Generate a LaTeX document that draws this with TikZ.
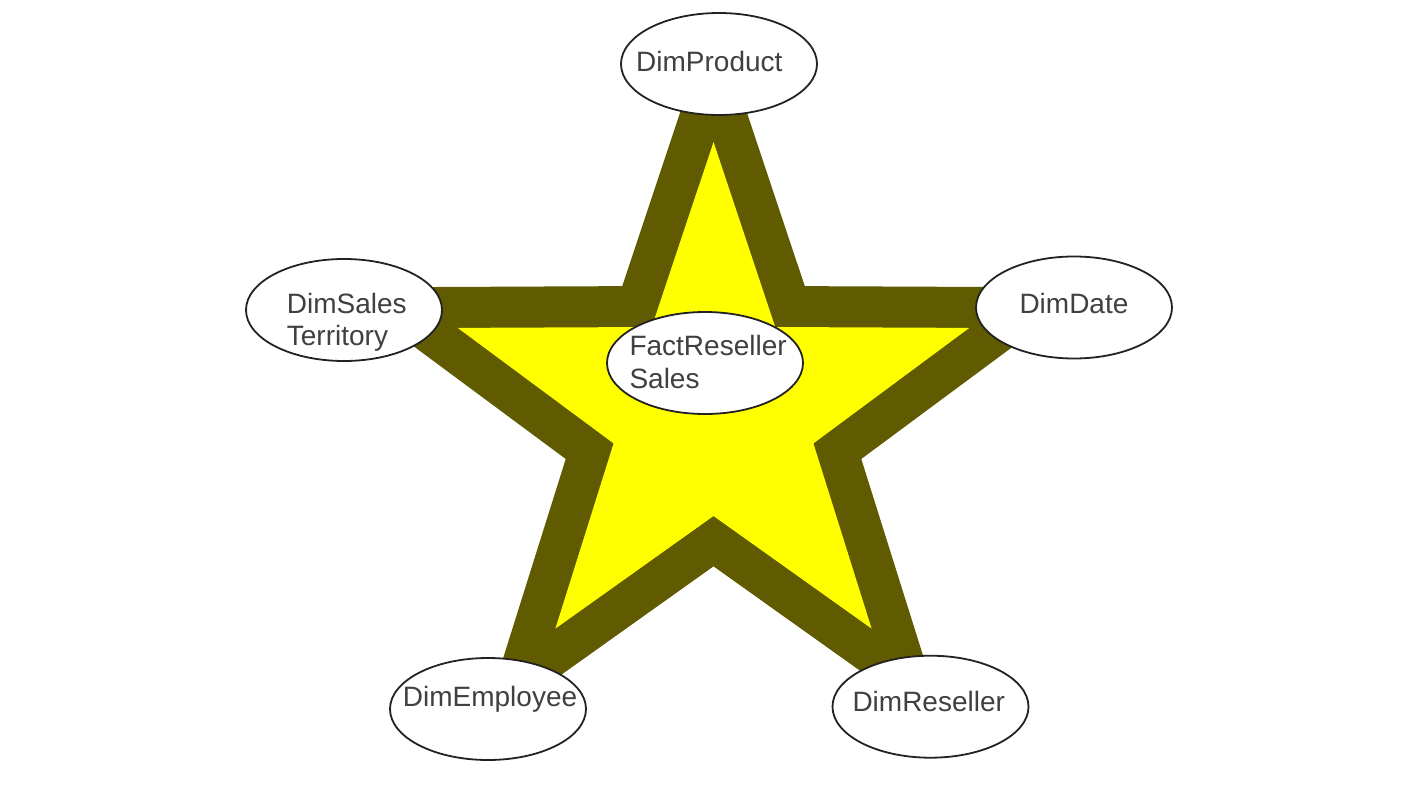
\documentclass[tikz,border=0pt]{standalone}
\usepackage{fontspec}
\setmainfont{Liberation Sans}
\usetikzlibrary{shapes.geometric}
\definecolor{starband}{RGB}{96,90,0}
\definecolor{starfill}{RGB}{255,255,0}
\definecolor{txtgray}{RGB}{64,64,64}
\definecolor{ellline}{RGB}{34,34,34}
\tikzset{
  dimell/.style={ellipse, draw=ellline, line width=1.8pt, fill=white, minimum width=196pt, minimum height=102pt, inner sep=0pt},
  lbl/.style={anchor=base west, text=txtgray, inner sep=0pt, font=\fontsize{28}{32.5}\selectfont, align=left},
  bandline/.style={draw=starband, line width=82pt, line join=miter, miter limit=10}
}
\begin{document}
\begin{tikzpicture}[x=1pt,y=-1pt]
\useasboundingbox (0,0) rectangle (1422,800);
% star vertices
\coordinate (t1) at (713.5,142);
\coordinate (i1) at (775.2,327);
\coordinate (t2) at (969.3,327.9);
\coordinate (i2) at (813.4,443.4);
\coordinate (t3) at (871.6,628.6);
\coordinate (i3) at (713.5,516);
\coordinate (t4) at (555.4,628.6);
\coordinate (i4) at (613.6,443.4);
\coordinate (t5) at (457.7,327.9);
\coordinate (i5) at (651.8,327);
\path[bandline] (t1) -- (i1) -- (t2) -- (i2) -- (t3) -- (i3) -- (t4) -- (i4) -- (t5) -- (i5) -- cycle;
\fill[starfill] (t1) -- (i1) -- (t2) -- (i2) -- (t3) -- (i3) -- (t4) -- (i4) -- (t5) -- (i5) -- cycle;
% ellipses
\node[dimell] (prod) at (719,64) {};
\node[dimell] (terr) at (344,310) {};
\node[dimell] (date) at (1074,307.5) {};
\node[dimell] (fact) at (705,363) {};
\node[dimell] (empl) at (488,709) {};
\node[dimell] (resl) at (930.5,706.7) {};
% labels (base anchor of a two-line label is the last line)
\node[lbl] (prodl) at (636,71) {DimProduct};
\node[lbl] (terrl) at (286.7,345.5) {DimSales\\Territory};
\node[lbl] (datel) at (1019.3,313.3) {DimDate};
\node[lbl] (factl) at (629.3,388.3) {FactReseller\\Sales};
\node[lbl] (empll) at (402.7,706.7) {DimEmployee};
\node[lbl] (resll) at (852.3,711.7) {DimReseller};
\end{tikzpicture}
\end{document}
